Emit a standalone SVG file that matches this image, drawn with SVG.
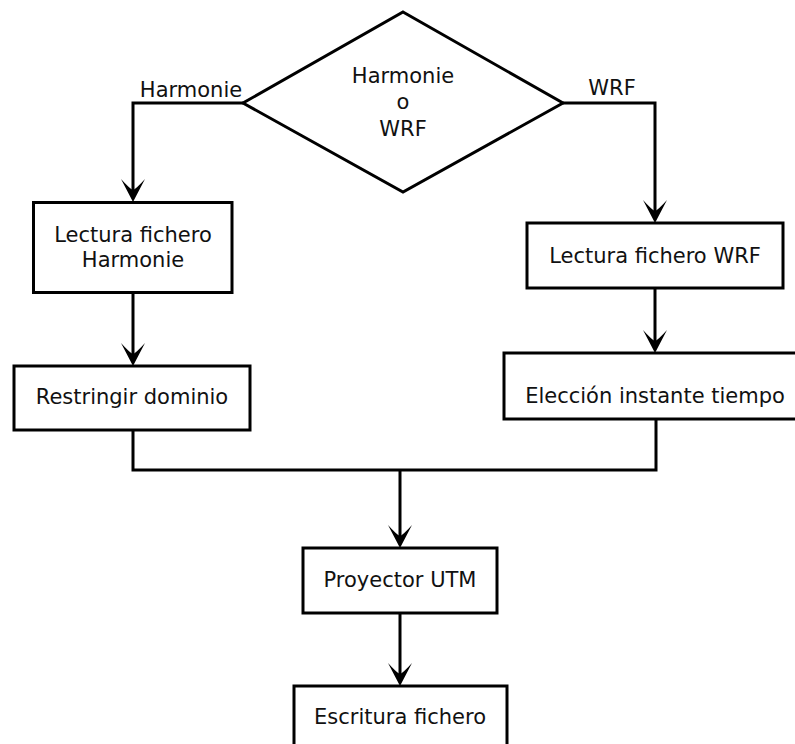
<svg xmlns="http://www.w3.org/2000/svg" width="795" height="744" viewBox="0 0 795 744">
<style>
.box{fill:#fff;stroke:#000;stroke-width:3}
.conn{fill:none;stroke:#000;stroke-width:3}
text{font-family:"DejaVu Sans","Liberation Sans",sans-serif;font-size:21px;fill:#111;text-anchor:middle}
</style>
<defs>
<marker id="arr" viewBox="0 -12 24 24" refX="11" refY="0" markerWidth="24" markerHeight="24" markerUnits="userSpaceOnUse" orient="auto">
<path d="M23,0 L0,-12 Q10,-3 11,0 Q10,3 0,12 Z" fill="#000"/>
</marker>
</defs>
<rect width="795" height="744" fill="#fff"/>
<g id="connectors">
<path class="conn" d="M243,103 H133 V190" marker-end="url(#arr)"/>
<path class="conn" d="M563,103 H655 V211" marker-end="url(#arr)"/>
<path class="conn" d="M133,293 V354" marker-end="url(#arr)"/>
<path class="conn" d="M655,288 V341" marker-end="url(#arr)"/>
<path class="conn" d="M133,430 V470 H656 V419"/>
<path class="conn" d="M400,470 V536" marker-end="url(#arr)"/>
<path class="conn" d="M400,613 V674" marker-end="url(#arr)"/>
<text x="191" y="97">Harmonie</text>
<text x="612" y="95">WRF</text>
</g>
<g id="decision">
<polygon class="box" points="403,12 563,103 403,192 243,103"/>
<text x="403" y="83">Harmonie</text>
<text x="403" y="109">o</text>
<text x="403" y="136">WRF</text>
</g>
<g id="lectura-harmonie">
<rect class="box" x="33.5" y="202.5" width="198.5" height="90"/>
<text x="133" y="242">Lectura fichero</text>
<text x="133" y="267">Harmonie</text>
</g>
<g id="restringir">
<rect class="box" x="14" y="366" width="236" height="64"/>
<text x="132" y="404">Restringir dominio</text>
</g>
<g id="lectura-wrf">
<rect class="box" x="527" y="223" width="256" height="65"/>
<text x="655" y="263">Lectura fichero WRF</text>
</g>
<g id="eleccion">
<rect class="box" x="504" y="353" width="302" height="66"/>
<text x="655" y="403">Elección instante tiempo</text>
</g>
<g id="proyector">
<rect class="box" x="303" y="548" width="194" height="65"/>
<text x="400" y="587">Proyector UTM</text>
</g>
<g id="escritura">
<rect class="box" x="294" y="686" width="213" height="74"/>
<text x="400" y="724">Escritura fichero</text>
</g>
</svg>
